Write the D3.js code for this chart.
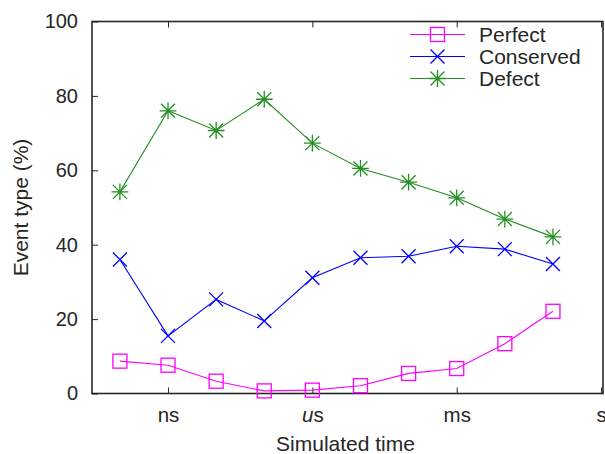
<!DOCTYPE html>
<html>
<head>
<meta charset="utf-8">
<script src="https://cdn.jsdelivr.net/npm/d3@7"></script>
<style>
  html, body { margin: 0; padding: 0; background: #fff; }
  svg { display: block; font-family: "Liberation Sans", Arial, Helvetica, sans-serif; }
</style>
</head>
<body>
<svg id="chart" width="605" height="454"></svg>
<script>
// Simulated-time decades (log10 of seconds) at which each run was sampled
const exponents = [-10, -9, -8, -7, -6, -5, -4, -3, -2, -1];

// Percentage of events of each type
const perfect   = [8.7, 7.6, 3.3, 0.7, 0.9, 2.1, 5.4, 6.7, 13.4, 22.1];
const conserved = [36.0, 15.5, 25.3, 19.5, 31.1, 36.5, 36.9, 39.6, 38.8, 34.8];
const defect    = [54.2, 76.0, 70.7, 79.1, 67.3, 60.5, 56.8, 52.6, 46.9, 42.1];

// Axis ticks
const xTickValues = [-9, -6, -3, 0];
const xTickLabels = ["ns", "us", "ms", "s"];
const yTickValues = [0, 20, 40, 60, 80, 100];

const seriesNames  = ["Perfect", "Conserved", "Defect"];
const seriesColors = ["#ff00ff", "#0000ff", "#238f23"];
const seriesSymbols = ["square", "cross", "star"];

const svg = d3.select("#chart");
const frame = { left: 92, right: 603, top: 21.5, bottom: 393.5 };
const ink = "#262626";

const x = d3.scaleLinear().domain([-10.58, 0.04]).range([frame.left, frame.right]);
const y = d3.scaleLinear().domain([0, 100]).range([frame.bottom, frame.top]);

// Bottom axis with tick labels
const xAxis = svg.append("g")
  .attr("transform", `translate(0,${frame.bottom})`)
  .call(d3.axisBottom(x).tickValues(xTickValues).tickSizeInner(-6).tickSizeOuter(0).tickPadding(14)
        .tickFormat(() => ""));
xAxis.select(".domain").remove();
xAxis.selectAll(".tick line").attr("stroke", ink).attr("stroke-width", 1);
xAxis.selectAll(".tick text").each(function (d, i) {
  const t = d3.select(this)
    .attr("fill", ink).attr("font-size", 20.5).attr("dy", "0.71em");
  const label = xTickLabels[i];
  if (label === "us") {
    t.append("tspan").attr("font-style", "italic").text("u");
    t.append("tspan").text("s");
  } else {
    t.text(label);
  }
});

// Mirrored ticks along the top edge
const xTop = svg.append("g")
  .attr("transform", `translate(0,${frame.top})`)
  .call(d3.axisTop(x).tickValues(xTickValues).tickSizeInner(-6).tickSizeOuter(0).tickFormat(""));
xTop.select(".domain").remove();
xTop.selectAll(".tick line").attr("stroke", ink);

// Left axis
const yAxis = svg.append("g")
  .attr("transform", `translate(${frame.left},0)`)
  .call(d3.axisLeft(y).tickValues(yTickValues).tickSizeInner(-6).tickSizeOuter(0).tickPadding(14));
yAxis.select(".domain").remove();
yAxis.selectAll(".tick line").attr("stroke", ink);
yAxis.selectAll(".tick text").attr("fill", ink).attr("font-size", 20);

// Plot frame
svg.append("rect")
  .attr("x", frame.left).attr("y", frame.top)
  .attr("width", frame.right - frame.left).attr("height", frame.bottom - frame.top)
  .attr("fill", "none").attr("stroke", ink).attr("stroke-width", 1.6);

// Axis titles
svg.append("text")
  .attr("x", (frame.left + frame.right) / 2 - 2).attr("y", 451)
  .attr("text-anchor", "middle").attr("font-size", 21).attr("fill", ink)
  .text("Simulated time");
svg.append("text")
  .attr("transform", `translate(27.5,${(frame.top + frame.bottom) / 2}) rotate(-90)`)
  .attr("text-anchor", "middle").attr("font-size", 21).attr("fill", ink)
  .text("Event type (%)");

// Marker glyphs
function drawSymbol(g, kind, cx, cy, color) {
  const r = 7;
  if (kind === "square") {
    g.append("rect").attr("x", cx - r).attr("y", cy - r).attr("width", 2 * r).attr("height", 2 * r)
      .attr("fill", "none").attr("stroke", color).attr("stroke-width", 1.3);
  } else if (kind === "cross") {
    g.append("path").attr("d", `M${cx - r},${cy - r}L${cx + r},${cy + r}M${cx - r},${cy + r}L${cx + r},${cy - r}`)
      .attr("stroke", color).attr("stroke-width", 1.3).attr("fill", "none");
  } else {
    g.append("path").attr("d",
      `M${cx - r},${cy - r}L${cx + r},${cy + r}M${cx - r},${cy + r}L${cx + r},${cy - r}` +
      `M${cx},${cy - r * 1.2}L${cx},${cy + r * 1.2}M${cx - r * 1.2},${cy}L${cx + r * 1.2},${cy}`)
      .attr("stroke", color).attr("stroke-width", 1.3).attr("fill", "none");
  }
}

const allSeries = [perfect, conserved, defect];
const line = d3.line().x((d, i) => x(exponents[i])).y(d => y(d));

allSeries.forEach((values, s) => {
  const g = svg.append("g");
  g.append("path").datum(values)
    .attr("d", line).attr("fill", "none")
    .attr("stroke", seriesColors[s]).attr("stroke-width", 1.1);
  values.forEach((v, i) => drawSymbol(g, seriesSymbols[s], x(exponents[i]), y(v), seriesColors[s]));
});

// Legend
const legend = svg.append("g");
seriesNames.forEach((name, s) => {
  const ly = 34.5 + s * 22;
  legend.append("line").attr("x1", 410).attr("x2", 465).attr("y1", ly).attr("y2", ly)
    .attr("stroke", seriesColors[s]).attr("stroke-width", 1.1);
  drawSymbol(legend, seriesSymbols[s], 437.5, ly, seriesColors[s]);
  legend.append("text").attr("x", 479).attr("y", ly).attr("dy", "0.36em")
    .attr("font-size", 21).attr("fill", ink).text(name);
});
</script>
</body>
</html>
